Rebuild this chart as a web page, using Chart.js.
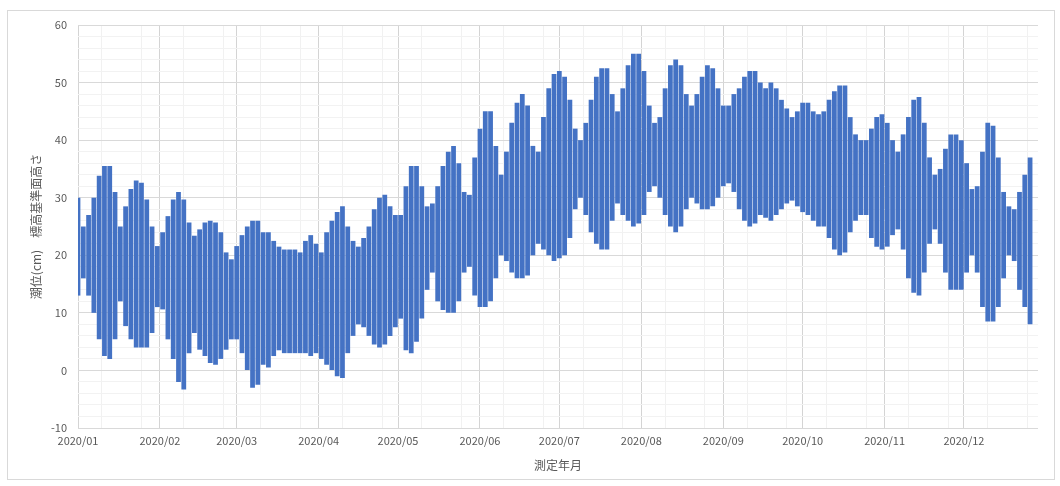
<!DOCTYPE html>
<html>
<head>
<meta charset="utf-8">
<script src="https://cdn.jsdelivr.net/npm/chart.js@4/dist/chart.umd.min.js"></script>
<style>
	body { margin: 0; background: #fff; }
	#frame { position: absolute; left: 7px; top: 10px; width: 1046px; height: 468px; border: 1px solid #d9d9d9; }
	#tide { position: absolute; left: 0; top: 0; }
</style>
</head>
<body>
<div id="frame"></div>
<canvas id="tide" width="1060" height="486"></canvas>
<script>
// month labels and their day offset from 2020/01/01
let monthLabels = ['2020/01', '2020/02', '2020/03', '2020/04', '2020/05', '2020/06',
	'2020/07', '2020/08', '2020/09', '2020/10', '2020/11', '2020/12'];
let monthStart = [0, 31, 60, 91, 121, 152, 182, 213, 244, 274, 305, 335];

// tide range (cm), highest / lowest water read every 2 days from 2020/01/01
let highTide = [
	30, 25, 27, 30, 33.8, 35.5, 35.5, 31, 25, 28.5, 31.5, 33, 32.6, 29.7, 25, 21.6,
	24, 26.8, 29.7, 31, 29.7, 25.7, 23.4, 24.5, 25.7, 26, 25.7, 24, 20.5, 19.3,
	21.6, 23.5, 25, 26, 26, 24, 24, 22.5, 21.5, 21, 21, 21, 20.5, 22.5, 23.5, 22,
	20.5, 24, 26, 27.5, 28.5, 25, 22.5, 21.5, 23, 25, 28, 30, 30.5, 28.5, 27,
	27, 32, 35.5, 35.5, 32, 28.5, 29, 32, 35.5, 38, 39, 36, 31, 30.5, 37, 42,
	45, 45, 39, 34, 38, 43, 46.5, 48, 46, 39, 38, 44, 49, 51.5, 52,
	51, 47, 42, 40, 43, 47, 51, 52.5, 52.5, 48, 45, 49, 53, 55, 55, 52,
	46, 43, 44, 49, 53, 54, 53, 48, 46, 48, 51, 53, 52.5, 49, 46,
	46, 48, 49, 51, 52, 52, 50, 49, 50, 49, 47, 45.5, 44, 45, 46.5, 46.5,
	45, 44.5, 45, 47, 48.5, 49.5, 49.5, 44, 41, 40, 40, 42, 44, 44.5, 43, 40,
	38, 41, 44, 47, 47.5, 43, 37, 34, 35, 38.5, 41, 41, 40, 36, 31.5, 32,
	38, 43, 42.5, 37, 31, 28.5, 28, 31, 34, 37
];
let lowTide = [
	13, 16, 13, 10, 5.4, 2.5, 2, 5.4, 12, 7.7, 5.4, 4, 4, 4, 6.5, 11,
	10.6, 5.4, 2, -2, -3.3, 3, 6.5, 3.6, 2.5, 1.3, 1, 2, 3.6, 5.4,
	5.4, 3, 0, -3, -2.5, 1, 0.5, 2.5, 3.5, 3, 3, 3, 3, 3, 2.5, 3,
	2, 1, 0, -1, -1.3, 3, 6, 8, 7.5, 6, 4.5, 4, 4.5, 6, 7.5,
	9, 3.5, 3, 5, 9, 14, 17, 12, 10.5, 10, 10, 12, 17, 18, 13, 11,
	11, 12, 16, 20, 19, 17, 16, 16, 16.5, 20, 22, 21, 20, 19, 19.5,
	20, 23, 28, 30, 27, 24, 22, 21, 21, 26, 29, 27, 26, 25, 25.5, 27,
	31, 32, 30, 27, 25, 24, 25, 28, 30, 29, 28, 28, 28.5, 30, 32,
	32.5, 31, 28, 26, 25, 25.5, 27, 26.5, 26, 27, 28, 29, 29.5, 28.5, 27.5, 27,
	26, 25, 25, 23, 21, 20, 20.5, 24, 26, 27, 27, 23, 21.5, 21, 21.5, 23.5,
	24.5, 21, 16, 13.5, 13, 17, 22, 24.5, 22, 17, 14, 14, 14, 17, 20, 17,
	11, 8.5, 8.5, 11, 16, 20, 19, 14, 11, 8
];

let TideChart = {
	stepDays: 2,

	init: function()
	{
		Chart.defaults.font.family = "'Noto Sans CJK JP', 'Noto Sans', sans-serif";
		Chart.defaults.color = '#595959';

		let ranges = lowTide.map((low, i) => ({x: i * this.stepDays, y: [low, highTide[i]]}));

		let xTicks = [];
		monthStart.forEach((d) => {
			xTicks.push({value: d});
			xTicks.push({value: d + 9});
			xTicks.push({value: d + 24});
		});

		new Chart('tide', {
			type: 'bar',
			data: {
				datasets: [{
					data: ranges,
					backgroundColor: '#4472c4',
					borderWidth: 0,
					categoryPercentage: 1,
					barPercentage: 0.9
				}]
			},
			options: {
				responsive: false,
				animation: false,
				devicePixelRatio: 1,
				layout: {
					padding: {top: 25, right: 22, bottom: 0, left: 0}
				},
				scales: {
					x: {
						type: 'linear',
						min: 0,
						max: 363,
						offset: false,
						afterBuildTicks: (scale) => { scale.ticks = xTicks; },
						afterFit: (scale) => { scale.height = 58; },
						border: {display: false},
						grid: {
							drawTicks: false,
							offset: false,
							color: (ctx) => monthStart.includes(ctx.tick.value) ? '#d4d4d4' : '#f1f1f1'
						},
						ticks: {
							autoSkip: false,
							maxRotation: 0,
							padding: 6,
							font: {size: 11},
							callback: (v) => {
								let i = monthStart.indexOf(v);
								return i >= 0 ? monthLabels[i] : '';
							}
						},
						title: {
							display: true,
							text: '測定年月',
							font: {size: 12},
							padding: {top: 0, bottom: 13}
						}
					},
					y: {
						min: -10,
						max: 60,
						afterFit: (scale) => { scale.width = 78; },
						border: {display: false},
						grid: {
							drawTicks: false,
							color: (ctx) => ctx.tick.value % 10 === 0 ? '#d9d9d9' : '#f2f2f2'
						},
						ticks: {
							stepSize: 2,
							autoSkip: false,
							padding: 11,
							font: {size: 11},
							callback: (v) => v % 10 === 0 ? v : ''
						},
						title: {
							display: true,
							text: '潮位(cm)　標高基準面高さ',
							font: {size: 12},
							padding: {top: 29, bottom: 0}
						}
					}
				},
				plugins: {
					legend: {display: false},
					tooltip: {enabled: false}
				}
			}
		});
	}
};

TideChart.init();
</script>
</body>
</html>
